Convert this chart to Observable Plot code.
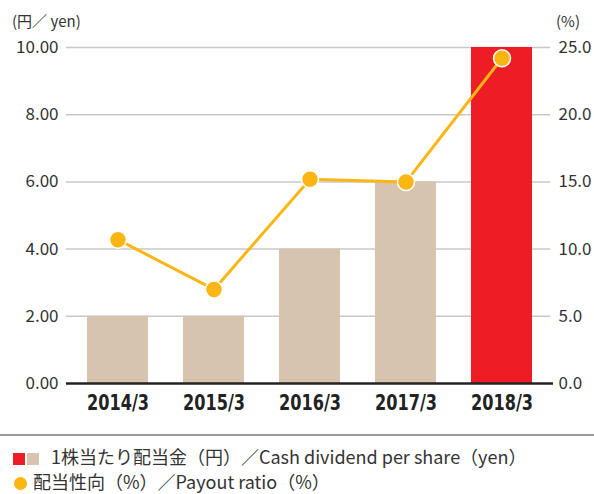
<!DOCTYPE html>
<html><head><meta charset="utf-8">
<script src="https://cdn.jsdelivr.net/npm/d3@7"></script>
<script src="https://cdn.jsdelivr.net/npm/@observablehq/plot@0.6"></script>
<style>
body{margin:0;background:#fff;font-family:"Noto Sans CJK JP","Noto Sans",sans-serif;}
#wrap{position:relative;width:594px;}
.unit{position:absolute;top:10px;font-size:15px;color:#333;}
#legend{border-top:2px solid #999;margin-top:0;padding:8px 0 0 13px;font-size:18px;color:#333;line-height:24.5px;white-space:nowrap;}
.sw{display:inline-block;width:12px;height:12px;vertical-align:-1px;margin-right:2px;}
.dot{display:inline-block;width:13px;height:13px;border-radius:50%;vertical-align:-1px;margin-right:6px;margin-left:1px;}
</style></head><body>
<div id="wrap">
<div class="unit" style="left:12px">(円／ yen)</div>
<div class="unit" style="left:556px">(%)</div>
<div id="chart"></div>
<div id="legend"></div>
</div>
<script>
const years = ["2014/3","2015/3","2016/3","2017/3","2018/3"];
const dividend = [2, 2, 4, 6, 10];
const payout = [10.7, 7.0, 15.2, 15.0, 24.2];
const yenTicks = [0, 2, 4, 6, 8, 10];
const barColors = ["#d7c4ae","#d7c4ae","#d7c4ae","#d7c4ae","#ee1c25"];
const lineColor = "#fbb614";

const data = years.map((y,i)=>({year:y, dividend:dividend[i], payout:payout[i], color:barColors[i]}));
const ratio = 2.5; // % per yen on the right axis

const chart = Plot.plot({
  width: 594, height: 434,
  marginLeft: 70, marginRight: 44, marginTop: 47, marginBottom: 51,
  style: {fontFamily: '"Noto Sans CJK JP","Noto Sans",sans-serif', fontSize: "16px", color:"#333"},
  x: {domain: years, paddingInner: 0.36, paddingOuter: 0.18, label: null},
  y: {domain: [0, 10], label: null},
  marks: [
    Plot.ruleY(yenTicks.slice(1), {stroke: "#c8c8c8", strokeWidth: 1.5, insetLeft: -4}),
    Plot.barY(data, {x: "year", y: "dividend", fill: "color"}),
    Plot.ruleY([0], {stroke: "#222", strokeWidth: 2.5, insetLeft: -4, insetRight: -3}),
    Plot.line(data, {x: "year", y: d => d.payout / ratio, stroke: lineColor, strokeWidth: 3}),
    Plot.dot(data, {x: "year", y: d => d.payout / ratio, r: 8.5, fill: lineColor, stroke: "#fff", strokeWidth: 1.5}),
    Plot.axisY(yenTicks, {anchor: "left", tickSize: 0, tickPadding: 12, tickFormat: d => d.toFixed(2), fontSize: 17, label: null}),
    Plot.axisY(yenTicks, {anchor: "right", tickSize: 0, tickPadding: 8, tickFormat: d => (d*ratio).toFixed(1), fontSize: 17, label: null}),
    Plot.axisX({className: "xax", tickSize: 0, tickPadding: 12, fontSize: 21, fontWeight: "bold", fill: "#222", fontFamily: '"DejaVu Sans Condensed","Liberation Sans Narrow",sans-serif', label: null})
  ]
});
d3.select(chart).selectAll(".xax text").attr("textLength", 62).attr("lengthAdjust", "spacingAndGlyphs");
document.getElementById("chart").appendChild(chart);

const legend = document.getElementById("legend");
legend.innerHTML =
  `<div><span class="sw" style="background:${barColors[4]}"></span><span class="sw" style="background:${barColors[0]};margin-right:12px"></span>1株当たり配当金（円）／Cash dividend per share（yen）</div>` +
  `<div><span class="dot" style="background:${lineColor}"></span>配当性向（%）／Payout ratio（%）</div>`;
</script>
</body></html>
